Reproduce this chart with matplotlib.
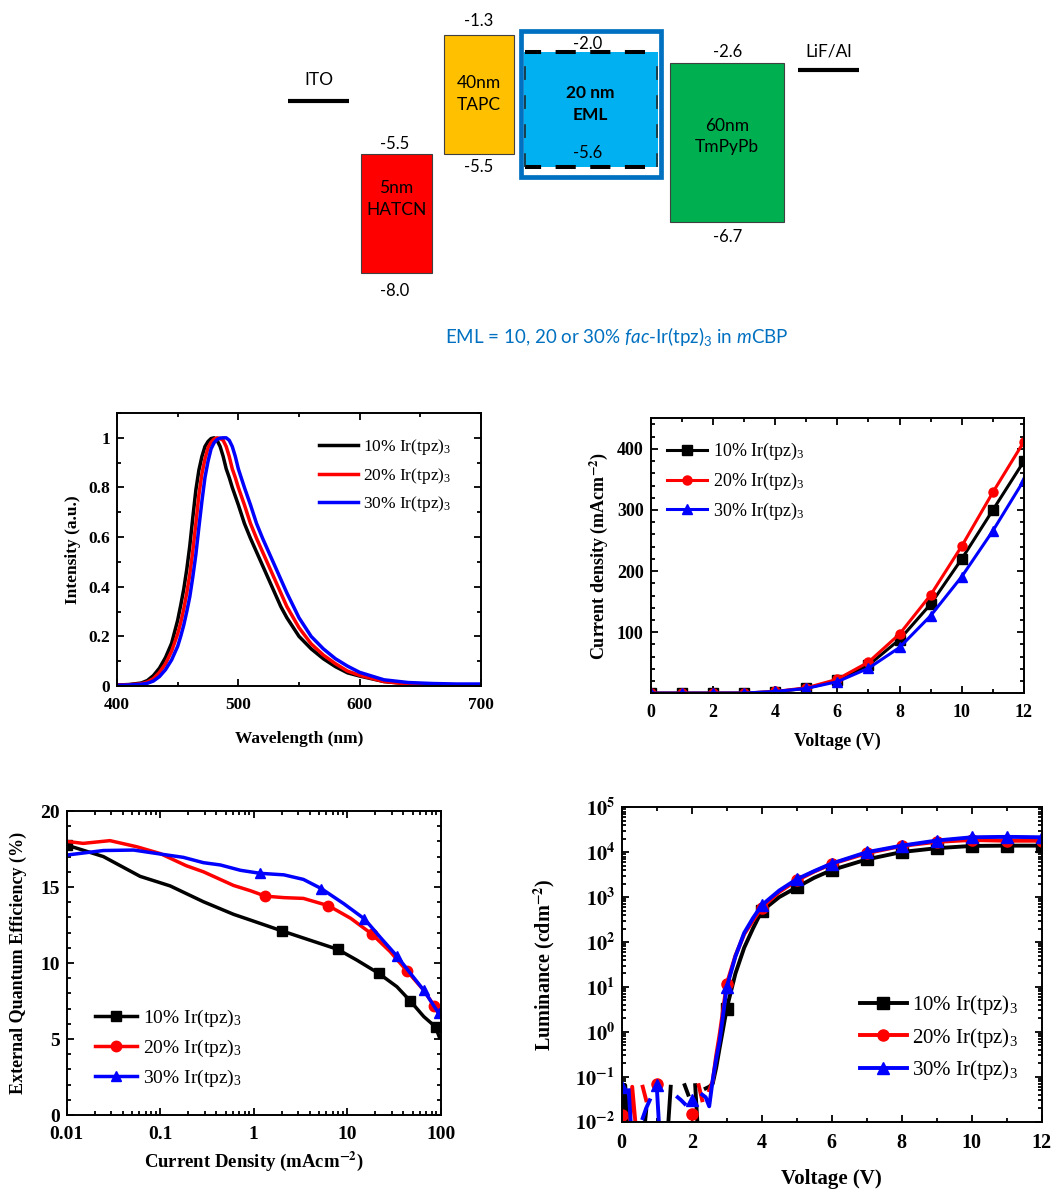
import numpy as np
import matplotlib
matplotlib.use("Agg")
import matplotlib.pyplot as plt
from matplotlib.ticker import (MultipleLocator, FixedLocator, FixedFormatter,
                               FuncFormatter, LogLocator, NullFormatter)

plt.rcParams['font.family'] = ['Liberation Serif', 'DejaVu Serif']
plt.rcParams['font.weight'] = 'bold'
plt.rcParams['axes.labelweight'] = 'bold'
plt.rcParams['mathtext.fontset'] = 'stix'
plt.rcParams['mathtext.rm'] = 'Lato:normal'
plt.rcParams['mathtext.it'] = 'Lato:italic:normal'
plt.rcParams['mathtext.bf'] = 'Lato:bold'

# ---------------- data ----------------
series_labels = ['10% Ir(tpz)$_\\mathregular{3}$', '20% Ir(tpz)$_\\mathregular{3}$',
                 '30% Ir(tpz)$_\\mathregular{3}$']
series_colors = ['#000000', '#FF0000', '#0000FF']

# device stack (energies in eV)
layer_names = ['5nm\nHATCN', '40nm\nTAPC', '20 nm\nEML', '60nm\nTmPyPb']
layer_lumo = [-5.5, -1.3, -2.0, -2.6]
layer_homo = [-8.0, -5.5, -5.6, -6.7]
electrode_names = ['ITO', 'LiF/Al']
electrode_levels = [-4.7, -2.9]

# electroluminescence spectra
wavelength = [400, 410, 420, 425, 430, 435, 440, 445, 450, 452.5, 455, 457.5, 460, 462.5,
              465, 467.5, 470, 472.5, 475, 477.5, 480, 482.5, 485, 487.5, 490, 492.5,
              495, 497.5, 500, 505, 510, 515, 520, 525, 530, 535, 540, 550, 560, 570,
              580, 590, 600, 620, 640, 660, 680, 700]
el_10 = [0.004, 0.006, 0.012, 0.022, 0.042, 0.072, 0.115, 0.172, 0.265, 0.325, 0.39,
         0.47, 0.565, 0.68, 0.79, 0.87, 0.925, 0.965, 0.985, 0.997, 1.0, 0.99, 0.965,
         0.925, 0.875, 0.84, 0.80, 0.765, 0.73, 0.655, 0.595, 0.54, 0.485, 0.43, 0.375,
         0.32, 0.275, 0.2, 0.15, 0.11, 0.078, 0.053, 0.04, 0.018, 0.009, 0.005, 0.003,
         0.002]
el_20 = [0.004, 0.005, 0.009, 0.016, 0.03, 0.055, 0.09, 0.14, 0.21, 0.255, 0.31, 0.375,
         0.45, 0.545, 0.655, 0.77, 0.855, 0.915, 0.96, 0.982, 0.995, 1.0, 0.997, 0.99,
         0.965, 0.925, 0.875, 0.84, 0.80, 0.73, 0.655, 0.595, 0.54, 0.485, 0.43, 0.375,
         0.32, 0.235, 0.17, 0.125, 0.09, 0.06, 0.043, 0.018, 0.008, 0.004, 0.003, 0.002]
el_30 = [0.003, 0.004, 0.007, 0.011, 0.02, 0.038, 0.066, 0.105, 0.16, 0.2, 0.245, 0.3,
         0.36, 0.44, 0.53, 0.64, 0.745, 0.84, 0.905, 0.955, 0.98, 0.993, 0.999, 1.0,
         1.0, 0.99, 0.965, 0.925, 0.875, 0.80, 0.73, 0.655, 0.595, 0.54, 0.485, 0.43,
         0.375, 0.275, 0.2, 0.15, 0.11, 0.08, 0.055, 0.025, 0.014, 0.01, 0.008, 0.008]

# current density - voltage
jv_voltage = [0, 1, 2, 3, 4, 5, 6, 7, 8, 9, 10, 11, 12]
jv_10 = [0.3, 0.3, 0.3, 0.4, 2.5, 8, 21, 46, 88, 146, 220, 300, 380]
jv_20 = [0.3, 0.3, 0.3, 0.4, 3, 9, 23, 51, 97, 161, 241, 329, 412]
jv_30 = [0.3, 0.3, 0.3, 0.4, 3, 8, 19, 41, 75, 127, 191, 266, 349]

# external quantum efficiency - current density
eqe_j_10 = [0.01, 0.0247, 0.061, 0.128, 0.29, 0.61, 0.917, 2.03, 4.0, 7.9, 12.6, 21.7,
            34, 47, 66, 88, 97]
eqe_10 = [17.76, 17.0, 15.7, 15.07, 14.03, 13.2, 12.83, 12.1, 11.5, 10.9, 10.2, 9.32,
          8.44, 7.52, 6.47, 5.8, 5.1]
eqe_j_20 = [0.01, 0.015, 0.029, 0.056, 0.1, 0.19, 0.29, 0.61, 0.917, 1.33, 2.1, 3.4,
            6.3, 10.9, 18.4, 28.8, 43.6, 66, 85, 99]
eqe_20 = [18.0, 17.87, 18.05, 17.65, 17.2, 16.4, 16.0, 15.1, 14.76, 14.4, 14.3, 14.25,
          13.77, 12.94, 11.9, 10.75, 9.47, 8.2, 7.19, 6.47]
eqe_j_30 = [0.01, 0.0247, 0.052, 0.1, 0.177, 0.29, 0.44, 0.72, 1.17, 2.1, 3.4, 5.27,
            9.2, 15.3, 22.5, 34, 47, 66, 95]
eqe_30 = [17.1, 17.4, 17.43, 17.17, 16.95, 16.6, 16.45, 16.1, 15.9, 15.8, 15.5, 14.9,
          13.9, 12.9, 11.7, 10.46, 9.35, 8.2, 6.7]
eqe_marks_10 = [0, 7, 9, 11, 13, 15]
eqe_marks_20 = [9, 12, 14, 16, 18]
eqe_marks_30 = [8, 11, 13, 15, 17, 18]

# luminance - voltage (0 = no reading)
lum_voltage = [0.0, 0.1, 0.2, 0.3, 0.4, 0.5, 0.6, 0.7, 0.8, 0.9, 1.0, 1.1, 1.2, 1.3,
               1.4, 1.5, 1.6, 1.7, 1.8, 1.9, 2.0, 2.1, 2.2, 2.3, 2.4, 2.5, 2.6, 2.7,
               2.8, 2.9, 3.0, 3.25, 3.5, 3.75, 4.0, 4.5, 5.0, 5.5, 6.0, 7.0, 8.0, 9.0,
               10.0, 11.0, 12.0]
lum_10 = [0.026, 0.065, 0.004, 0, 0, 0, 0.003, 0.018, 0, 0, 0, 0, 0, 0.004,
          0.06, 0, 0, 0, 0.065, 0.04, 0, 0.065, 0.003, 0, 0.055, 0.06, 0.07, 0.16,
          0.45, 1.2, 3.3, 20, 75, 200, 490, 1000, 1650, 2700, 4000, 6900, 10100, 12300,
          13800, 14000, 14000]
lum_20 = [0.014, 0, 0.004, 0.06, 0.008, 0, 0.06, 0.03, 0, 0, 0.07, 0, 0, 0,
          0, 0, 0, 0, 0, 0, 0.015, 0, 0.065, 0.03, 0, 0.05, 0.08, 0.3,
          0.9, 3.2, 11.6, 50, 150, 300, 580, 1300, 2350, 3700, 5500, 9500, 13800, 17000,
          18700, 18000, 18000]
lum_30 = [0.06, 0, 0.05, 0.003, 0, 0, 0.012, 0.02, 0.03, 0, 0.065, 0.003, 0, 0,
          0, 0, 0.035, 0.03, 0.025, 0, 0.03, 0, 0, 0.04, 0.035, 0.022, 0.085, 0.25,
          0.65, 2.5, 9.8, 48, 160, 340, 660, 1400, 2500, 3800, 5600, 10000, 14000, 18200,
          21500, 22000, 21500]

# ---------------- figure ----------------
W, H = 1052, 1189
fig = plt.figure(figsize=(W / 100, H / 100), dpi=100)


def px_axes(left, top, right, bottom):
    return fig.add_axes([left / W, 1 - bottom / H, (right - left) / W, (bottom - top) / H])


# ---- energy level diagram (schematic energy axis) ----
E_knots = np.array([-10.0, -8.0, -6.7, -5.6, -5.5, -4.7, -2.9, -2.6, -2.0, -1.3, 0.0])
P_knots = np.array([-350.0, -272.5, -222.0, -166.5, -153.8, -101.0, -70.3, -63.0,
                    -52.3, -35.0, 0.0])


def e_fwd(e):
    return np.interp(e, E_knots, P_knots)


def e_inv(p):
    return np.interp(p, P_knots, E_knots)


def shift(e, px):
    return float(e_inv(e_fwd(e) + px))


dax = px_axes(0, 0, W, 300)
dax.set_yscale('function', functions=(e_fwd, e_inv))
dax.set_xlim(0, W)
dax.set_ylim(float(e_inv(-300)), 0.0)
dax.axis('off')

layer_span = [(361, 432), (444, 514), (523.5, 657.5), (670, 784)]
layer_fill = ['#FF0000', '#FFC000', '#00B0F0', '#00B050']
name_dy = [14, 0, 5, 6]
lumo_dy = [10, 14, 8, 11]
homo_dy = [-18, -13, 14, -15]
label_x = [395, 479, 588, 728]
txt_kw = dict(family=['Lato', 'DejaVu Sans'], fontweight='normal', ha='center',
              va='center', textcoords='offset pixels')

for i, (name, lu, ho) in enumerate(zip(layer_names, layer_lumo, layer_homo)):
    x0, x1 = layer_span[i]
    eml = name.endswith('EML')
    dax.bar((x0 + x1) / 2, lu - ho, bottom=ho, width=x1 - x0, color=layer_fill[i],
            edgecolor='none' if eml else '#404040', lw=0.8, zorder=2)
    mid = float(e_inv((e_fwd(lu) + e_fwd(ho)) / 2))
    kw = dict(txt_kw)
    if eml:
        kw['fontweight'] = 'bold'
    dax.annotate(name, ((x0 + x1) / 2, mid), xytext=(0, name_dy[i]), fontsize=12.5,
                 linespacing=1.45, zorder=5, **kw)
    dax.annotate(f'{lu:.1f}', (label_x[i], lu), xytext=(0, lumo_dy[i]), fontsize=12,
                 zorder=5, **txt_kw)
    dax.annotate(f'{ho:.1f}', (label_x[i], ho), xytext=(0, homo_dy[i]), fontsize=12,
                 zorder=5, **txt_kw)

# emissive layer: frame and dashed level markers
eml_i = 2
top = shift(layer_lumo[eml_i], 21.8)
bot = shift(layer_homo[eml_i], -10.0)
dax.bar(590.5, top - bot, bottom=bot, width=140, fill=False, edgecolor='#0070C0',
        lw=3.4, zorder=3)
dax.hlines([layer_lumo[eml_i], layer_homo[eml_i]], 525, 658, colors='k', lw=2.9,
           linestyles=[(1.0, (5, 3.6))], zorder=4)
dax.vlines([524.6, 656.8], layer_homo[eml_i], layer_lumo[eml_i], colors='#202020',
           lw=1.1, linestyles=[(0, (9, 10))], zorder=4)

electrode_span = [(288, 349), (798, 859)]
electrode_dy = [21, 19]
for name, lv, (x0, x1), dy in zip(electrode_names, electrode_levels, electrode_span,
                                  electrode_dy):
    dax.hlines(lv, x0, x1, colors='k', lw=3.0, zorder=3)
    dax.annotate(name, ((x0 + x1) / 2, lv), xytext=(0, dy), fontsize=12.5, **txt_kw)

fig.text(617 / W, 1 - 337 / H,
         r'EML = 10, 20 or 30% $\it{fac}$-Ir(tpz)$_3$ in $\it{m}$CBP',
         family=['Lato', 'DejaVu Sans'], fontweight='normal', fontsize=13.5,
         color='#0070C0', ha='center', va='center', math_fontfamily='custom')


# ---- helpers for the data panels ----
def style(ax, fs):
    for s in ax.spines.values():
        s.set_linewidth(1.4)
    ax.tick_params(which='both', direction='in', top=True, right=True, width=1.3,
                   labelsize=fs, pad=5)
    ax.tick_params(axis='x', which='both', pad=8)
    ax.tick_params(which='major', length=5)
    ax.tick_params(which='minor', length=3)


def legend(ax, x, y, fs, hl, tp, spacing):
    return ax.legend(loc='upper left', bbox_to_anchor=(x / W, 1 - y / H),
                     bbox_transform=fig.transFigure, frameon=False, borderpad=0,
                     borderaxespad=0, handlelength=hl, handletextpad=tp,
                     labelspacing=spacing, prop={'size': fs, 'weight': 'normal',
                                                 'family': 'Liberation Serif'})


# ---- electroluminescence spectra ----
ax1 = px_axes(117, 413, 481, 686)
for y, c, lab in zip([el_10, el_20, el_30], series_colors, series_labels):
    ax1.plot(wavelength, y, color=c, lw=2.5, label=lab, solid_joinstyle='round')
ax1.set_xlim(400, 700)
ax1.set_ylim(0, 1.1)
ax1.xaxis.set_major_locator(FixedLocator([400, 500, 600, 700]))
ax1.xaxis.set_minor_locator(MultipleLocator(50))
ax1.yaxis.set_major_locator(FixedLocator([0, 0.2, 0.4, 0.6, 0.8, 1.0]))
ax1.yaxis.set_minor_locator(MultipleLocator(0.1))
ax1.yaxis.set_major_formatter(FuncFormatter(lambda v, p: f'{v:g}'))
style(ax1, 12.5)
ax1.set_xlabel('Wavelength (nm)', fontsize=12.5)
ax1.set_ylabel('Intensity (a.u.)', fontsize=12.5)
ax1.xaxis.set_label_coords(0.5, -0.165)
ax1.yaxis.set_label_coords(-0.10, 0.5)
legend(ax1, 319, 437, 12.5, 2.25, 0.3, 0.5)

# ---- current density ----
ax2 = px_axes(650.7, 418.3, 1024, 693.3)
for y, c, lab, m in zip([jv_10, jv_20, jv_30], series_colors, series_labels,
                        ['s', 'o', '^']):
    ax2.plot(jv_voltage, y, color=c, lw=2.2, marker=m, ms=6.5, label=lab)
ax2.set_xlim(0, 12)
ax2.set_ylim(0, 450)
ax2.xaxis.set_major_locator(MultipleLocator(2))
ax2.xaxis.set_minor_locator(MultipleLocator(1))
ax2.yaxis.set_major_locator(FixedLocator([100, 200, 300, 400]))
ax2.yaxis.set_minor_locator(MultipleLocator(20))
style(ax2, 13)
ax2.set_xlabel('Voltage (V)', fontsize=13)
ax2.set_ylabel(r'Current density (mAcm$^{\mathbf{-2}}$)', fontsize=13)
ax2.xaxis.set_label_coords(0.5, -0.145)
ax2.yaxis.set_label_coords(-0.11, 0.5)
legend(ax2, 667, 441, 13, 2.2, 0.33, 0.48)

# ---- external quantum efficiency ----
ax3 = px_axes(66.7, 811, 440.7, 1115)
for jx, y, mk, c, lab, m in zip([eqe_j_10, eqe_j_20, eqe_j_30], [eqe_10, eqe_20, eqe_30],
                                [eqe_marks_10, eqe_marks_20, eqe_marks_30],
                                series_colors, series_labels, ['s', 'o', '^']):
    ax3.plot(jx, y, color=c, lw=2.5, marker=m, ms=7.5, markevery=mk, label=lab)
ax3.set_xscale('log')
ax3.set_xlim(0.01, 100)
ax3.set_ylim(0, 20)
ax3.xaxis.set_major_locator(FixedLocator([0.01, 0.1, 1, 10, 100]))
ax3.xaxis.set_major_formatter(FixedFormatter(['0.01', '0.1', '1', '10', '100']))
ax3.xaxis.set_minor_locator(LogLocator(base=10, subs=np.arange(2, 10)))
ax3.xaxis.set_minor_formatter(NullFormatter())
ax3.yaxis.set_major_locator(MultipleLocator(5))
ax3.yaxis.set_minor_locator(MultipleLocator(1))
style(ax3, 14)
ax3.set_xlabel(r'Current Density (mAcm$^{\mathbf{-2}}$)', fontsize=13.5)
ax3.set_ylabel('External Quantum Efficiency (%)', fontsize=13)
ax3.xaxis.set_label_coords(0.5, -0.115)
ax3.yaxis.set_label_coords(-0.105, 0.5)
legend(ax3, 95, 1008, 14, 2.15, 0.3, 0.45)

# ---- luminance ----
ax4 = px_axes(621.7, 807.3, 1041.7, 1121.7)
for y, c, lab, m in zip([lum_10, lum_20, lum_30], series_colors, series_labels,
                        ['s', 'o', '^']):
    marks = [i for i, v in enumerate(lum_voltage) if float(v).is_integer()]
    ax4.plot(lum_voltage, y, color=c, lw=2.8, marker=m, ms=8, markevery=marks,
             label=lab)
ax4.set_yscale('log', nonpositive='mask')
ax4.set_xlim(0, 12)
ax4.set_ylim(1e-2, 1e5)
ax4.xaxis.set_major_locator(MultipleLocator(2))
ax4.xaxis.set_minor_locator(MultipleLocator(1))
ax4.yaxis.set_major_locator(LogLocator(base=10, numticks=20))
ax4.yaxis.set_major_formatter(
    FuncFormatter(lambda v, p: r'$\mathbf{10^{%d}}$' % round(np.log10(v))))
ax4.yaxis.set_minor_locator(LogLocator(base=10, subs=np.arange(2, 10), numticks=20))
ax4.yaxis.set_minor_formatter(NullFormatter())
style(ax4, 14.5)
ax4.set_xlabel('Voltage (V)', fontsize=15)
ax4.set_ylabel(r'Luminance (cdm$^{\mathbf{-2}}$)', fontsize=14.5)
ax4.xaxis.set_label_coords(0.5, -0.15)
ax4.yaxis.set_label_coords(-0.155, 0.5)
legend(ax4, 860, 993, 15, 2.25, 0.25, 0.42)

fig.savefig('out.png', dpi=100)
